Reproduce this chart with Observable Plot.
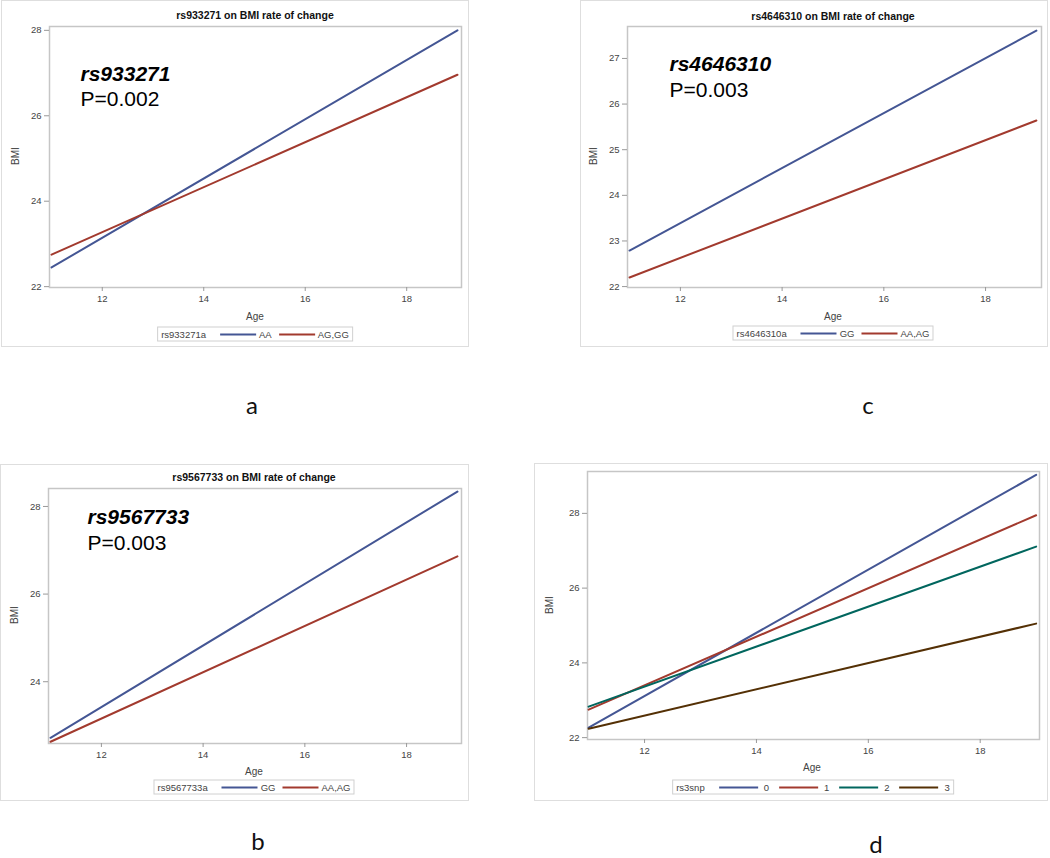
<!DOCTYPE html>
<html>
<head>
<meta charset="utf-8">
<script src="https://cdn.jsdelivr.net/npm/d3@7"></script>
<script src="https://cdn.jsdelivr.net/npm/@observablehq/plot@0.6"></script>
<style>
  html, body { margin: 0; padding: 0; background: #fff; }
  #fig { position: relative; width: 1050px; height: 858px; background: #fff;
         font-family: "Liberation Sans", Arial, sans-serif; color: #333; overflow: hidden; }
  .box { position: absolute; border: 1.5px solid #dedede; box-sizing: border-box; }
  .abs { position: absolute; white-space: nowrap; transform: translate(-50%, -50%); }
  .title { font-weight: bold; font-size: 10.5px; color: #111; }
  .axlab { font-size: 10px; color: #444; }
  .ylab { transform: translate(-50%, -50%) rotate(-90deg); }
  .legend { position: absolute; transform: translate(-50%, -50%); border: 1px solid #d0d0d0;
            font-size: 9.5px; color: #444; display: flex; align-items: center; padding: 1px 3px; white-space: nowrap; }
  .legend .sw { display: inline-block; width: 36px; height: 0; border-top: 2px solid; margin: 0 3px 0 7px; }
  .legend .ttl { margin-right: 7px; }
  .plabel { position: absolute; transform: translate(-50%, -50%); font-family: Lato, "Open Sans", sans-serif; font-size: 24px; color: #111; }
  .plot { position: absolute; }
</style>
</head>
<body>
<div id="fig"></div>
<script>
// ---------- data ----------
const ages = [11, 19];
const xTicks = [12, 14, 16, 18];

const aTitle = "rs933271 on BMI rate of change";
const aSnp = "rs933271";
const aP = "P=0.002";
const aLegendTitle = "rs933271a";
const aGroups = ["AA", "AG,GG"];
const aBMI = [[22.45, 28.0], [22.75, 26.96]];
const aYTicks = [22, 24, 26, 28];

const cTitle = "rs4646310 on BMI rate of change";
const cSnp = "rs4646310";
const cP = "P=0.003";
const cLegendTitle = "rs4646310a";
const cGroups = ["GG", "AA,AG"];
const cBMI = [[22.79, 27.61], [22.2, 25.64]];
const cYTicks = [22, 23, 24, 25, 26, 27];

const bTitle = "rs9567733 on BMI rate of change";
const bSnp = "rs9567733";
const bP = "P=0.003";
const bLegendTitle = "rs9567733a";
const bGroups = ["GG", "AA,AG"];
const bBMI = [[22.72, 28.34], [22.63, 26.86]];
const bYTicks = [24, 26, 28];

const dLegendTitle = "rs3snp";
const dGroups = ["0", "1", "2", "3"];
const dBMI = [[22.27, 29.03], [22.75, 27.95], [22.83, 27.11], [22.24, 25.05]];
const dYTicks = [22, 24, 26, 28];

const panelLetters = ["a", "c", "b", "d"];

// ---------- styles / layout ----------
const colors = ["#445694", "#A23A2E", "#01665E", "#543005"];
const ML = 40, MR = 4, MT = 4, MB = 22;

const panels = [
  { title: aTitle, snp: aSnp, p: aP, legendTitle: aLegendTitle, groups: aGroups, bmi: aBMI, yTicks: aYTicks,
    frame: { l: 49, t: 26, r: 461, b: 287 }, xDomain: [10.96, 19.08], yDomain: [21.98, 28.09],
    box: { l: 1, t: 0, r: 469, b: 347 }, titlePos: [255, 15], agePos: [255, 316], bmiPos: [15, 156],
    legendPos: [255, 334], ann: { dx: 31, dy1: 54, dy2: 79 }, letterPos: [252, 404] },
  { title: cTitle, snp: cSnp, p: cP, legendTitle: cLegendTitle, groups: cGroups, bmi: cBMI, yTicks: cYTicks,
    frame: { l: 627, t: 26, r: 1041, b: 287 }, xDomain: [10.96, 19.1], yDomain: [21.98, 27.70],
    box: { l: 580, t: 0, r: 1048, b: 347 }, titlePos: [833, 16], agePos: [833, 316], bmiPos: [593, 156],
    legendPos: [833, 333], ann: { dx: 42, dy1: 44, dy2: 70 }, letterPos: [868, 404] },
  { title: bTitle, snp: bSnp, p: bP, legendTitle: bLegendTitle, groups: bGroups, bmi: bBMI, yTicks: bYTicks,
    frame: { l: 48, t: 488, r: 461, b: 743 }, xDomain: [10.96, 19.08], yDomain: [22.59, 28.41],
    box: { l: 0, t: 464, r: 469, b: 801 }, titlePos: [254, 477], agePos: [254, 771], bmiPos: [14, 615],
    legendPos: [254, 787], ann: { dx: 39, dy1: 35, dy2: 61 }, letterPos: [258, 840] },
  { title: null, snp: null, p: null, legendTitle: dLegendTitle, groups: dGroups, bmi: dBMI, yTicks: dYTicks,
    frame: { l: 587, t: 471, r: 1039, b: 739 }, xDomain: [10.98, 19.06], yDomain: [21.95, 29.12],
    box: { l: 534, t: 463, r: 1048, b: 801 }, titlePos: null, agePos: [812, 767], bmiPos: [549, 605],
    legendPos: [813, 787], ann: null, letterPos: [876, 843], wide: true }
];

const fig = document.getElementById("fig");

function addDiv(cls, text, x, y, extra) {
  const d = document.createElement("div");
  d.className = cls;
  if (text != null) d.textContent = text;
  if (x != null) { d.style.left = x + "px"; d.style.top = y + "px"; }
  if (extra) Object.assign(d.style, extra);
  fig.appendChild(d);
  return d;
}

panels.forEach((pn, i) => {
  addDiv("box", null, null, null, {
    left: pn.box.l + "px", top: pn.box.t + "px",
    width: (pn.box.r - pn.box.l) + "px", height: (pn.box.b - pn.box.t) + "px"
  });

  const rows = [];
  pn.groups.forEach((g, gi) => {
    ages.forEach((a, ai) => rows.push({ age: a, bmi: pn.bmi[gi][ai], group: g }));
  });

  const W = (pn.frame.r - pn.frame.l) + ML + MR;
  const H = (pn.frame.b - pn.frame.t) + MT + MB;

  const marks = [
    Plot.frame({ stroke: "#c6c6c6", strokeWidth: 1.5 }),
    Plot.axisX(xTicks, { tickSize: 4, tickPadding: 4, label: null, fontSize: 9.5, stroke: "#999" }),
    Plot.axisY(pn.yTicks, { tickSize: 5, tickPadding: 3, label: null, fontSize: 9.5, stroke: "#999" }),
    Plot.line(rows, { x: "age", y: "bmi", z: "group", stroke: "group", strokeWidth: 2 })
  ];
  if (pn.ann) {
    marks.push(Plot.text([pn.snp], { text: d => d, frameAnchor: "top-left", textAnchor: "start", lineAnchor: "bottom",
      dx: pn.ann.dx, dy: pn.ann.dy1, fontSize: 21, fontWeight: "bold", fontStyle: "italic", fill: "#000" }));
    marks.push(Plot.text([pn.p], { text: d => d, frameAnchor: "top-left", textAnchor: "start", lineAnchor: "bottom",
      dx: pn.ann.dx, dy: pn.ann.dy2, fontSize: 21, fill: "#000" }));
  }

  const chart = Plot.plot({
    width: W, height: H,
    marginLeft: ML, marginRight: MR, marginTop: MT, marginBottom: MB,
    x: { domain: pn.xDomain, label: null },
    y: { domain: pn.yDomain, label: null },
    color: { domain: pn.groups, range: colors.slice(0, pn.groups.length) },
    style: { fontFamily: "Liberation Sans, Arial, sans-serif", fontSize: "9.5px", color: "#444", background: "transparent", overflow: "visible" },
    marks
  });
  const wrap = addDiv("plot", null, null, null, { left: (pn.frame.l - ML) + "px", top: (pn.frame.t - MT) + "px" });
  wrap.appendChild(chart);

  if (pn.title) addDiv("abs title", pn.title, pn.titlePos[0], pn.titlePos[1]);
  addDiv("abs axlab", "Age", pn.agePos[0], pn.agePos[1]);
  addDiv("abs axlab ylab", "BMI", pn.bmiPos[0], pn.bmiPos[1]);

  const lg = addDiv("legend", null, pn.legendPos[0], pn.legendPos[1]);
  const t = document.createElement("span"); t.className = "ttl"; t.textContent = pn.legendTitle;
  if (pn.wide) t.style.marginRight = "14px";
  lg.appendChild(t);
  pn.groups.forEach((g, gi) => {
    const sw = document.createElement("span"); sw.className = "sw"; sw.style.borderTopColor = colors[gi];
    if (pn.wide) { sw.style.width = "39px"; sw.style.marginLeft = gi ? "10px" : "0px"; sw.style.marginRight = "6px"; }
    lg.appendChild(sw);
    const lb = document.createElement("span"); lb.textContent = g; lg.appendChild(lb);
  });

  addDiv("plabel", panelLetters[i], pn.letterPos[0], pn.letterPos[1]);
});
</script>
</body>
</html>
